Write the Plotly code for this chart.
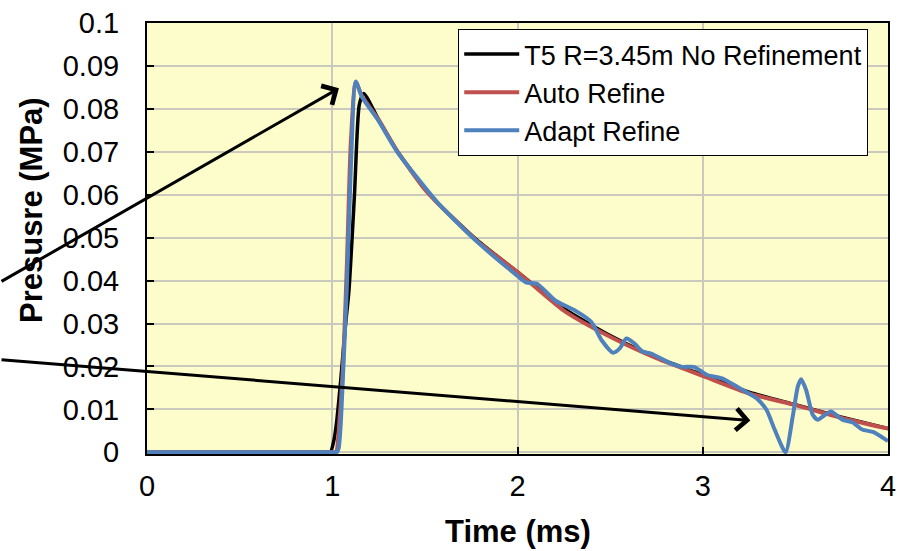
import plotly.graph_objects as go

# ---- data (time in ms, pressure in MPa) ----
t_none = [0, 0.5, 0.9, 0.97, 0.99, 1.01, 1.025, 1.046, 1.07, 1.09, 1.12, 1.146, 1.17, 1.25, 1.35, 1.5, 1.56, 1.78, 2.0, 2.25, 2.5, 2.75, 3.0, 3.25, 3.5, 3.75, 4.0]
p_none = [0, 0, 0, 0, 0, 0.003, 0.0076, 0.0169, 0.029, 0.0376, 0.060, 0.081, 0.0836, 0.0775, 0.0702, 0.0615, 0.0585, 0.0495, 0.0420, 0.0335, 0.0272, 0.0221, 0.0180, 0.0140, 0.0111, 0.0082, 0.0055]

t_auto = [0, 0.5, 0.9, 1.0, 1.02, 1.04, 1.06, 1.08, 1.10, 1.127, 1.16, 1.25, 1.35, 1.5, 1.56, 1.78, 2.0, 2.25, 2.5, 2.75, 3.0, 3.25, 3.5, 3.75, 4.0]
p_auto = [0, 0, 0, 0, 0, 0.008, 0.022, 0.045, 0.072, 0.0862, 0.0830, 0.0775, 0.0702, 0.0612, 0.0584, 0.0493, 0.0420, 0.0330, 0.0269, 0.0219, 0.0178, 0.0137, 0.0110, 0.0080, 0.0055]

t_adapt = [0, 0.5, 0.9, 1.0, 1.025, 1.035, 1.045, 1.057, 1.078, 1.10, 1.127, 1.16, 1.25, 1.351, 1.564, 1.778, 2.0, 2.045, 2.107, 2.205, 2.312, 2.40,
           2.454, 2.516, 2.552, 2.588, 2.632, 2.676, 2.721, 2.828, 2.89, 2.952, 3.024, 3.104, 3.184, 3.29, 3.344,
           3.388, 3.447, 3.486, 3.513, 3.531, 3.558, 3.593, 3.62, 3.691, 3.753, 3.807, 3.86, 3.922, 4.0]
p_adapt = [0, 0, 0, 0, 0, 0.001, 0.006, 0.0169, 0.0376, 0.066, 0.0864, 0.0828, 0.0772, 0.0700, 0.0584, 0.0492, 0.0411, 0.0396, 0.0392, 0.0353, 0.0330, 0.0303,
           0.0261, 0.0232, 0.0242, 0.0265, 0.0253, 0.0234, 0.0230, 0.0207, 0.0199, 0.0199, 0.0180, 0.0172, 0.0153, 0.0126, 0.0099,
           0.0053, 0.0, 0.0084, 0.0153, 0.0170, 0.0145, 0.0088, 0.0076, 0.0095, 0.0076, 0.0070, 0.0053, 0.0047, 0.0026]

names = ["T5 R=3.45m No Refinement", "Auto Refine", "Adapt Refine"]
colors = ["#000000", "#C0504D", "#4F81BD"]

x_ticks = [0, 1, 2, 3, 4]
y_ticks = [0, 0.01, 0.02, 0.03, 0.04, 0.05, 0.06, 0.07, 0.08, 0.09, 0.1]
y_tick_labels = ["0", "0.01", "0.02", "0.03", "0.04", "0.05", "0.06", "0.07", "0.08", "0.09", "0.1"]
x_title = "Time (ms)"
y_title = "Presusre (MPa)"

# arrow tips (data) and tails (pixel offsets from tip)
arrow_tips = [(1.036, 0.0848), (3.257, 0.0074)]
arrow_tails = [(-341, 194), (-757, -61)]

fig = go.Figure()
for tx, py, nm, col, w in [(t_none, p_none, names[0], colors[0], 3.5),
                           (t_auto, p_auto, names[1], colors[1], 4),
                           (t_adapt, p_adapt, names[2], colors[2], 4)]:
    fig.add_trace(go.Scatter(x=tx, y=py, name=nm, mode="lines", cliponaxis=False,
                             line=dict(color=col, width=w, shape="spline", smoothing=0.6)))

for (ax_, ay_), (dx, dy) in zip(arrow_tips, arrow_tails):
    fig.add_annotation(x=ax_, y=ay_, xref="x", yref="y", ax=dx, ay=dy, axref="pixel", ayref="pixel",
                       showarrow=True, arrowhead=4, arrowsize=1.4, arrowwidth=3, arrowcolor="black", text="")

font = "Liberation Sans, Arial, sans-serif"
fig.add_annotation(text="<b>%s</b>" % x_title, xref="paper", yref="paper", x=0.5007, y=-0.18,
                   xanchor="center", yanchor="middle", showarrow=False, font=dict(size=31))
fig.add_annotation(text="<b>%s</b>" % y_title, xref="paper", yref="paper", x=-0.156, y=0.567,
                   xanchor="center", yanchor="middle", textangle=-90, showarrow=False, font=dict(size=31))

fig.update_layout(
    width=903, height=551,
    margin=dict(l=147, r=7, t=19, b=97),
    paper_bgcolor="white",
    plot_bgcolor="#FDFDCB",
    font=dict(family=font, size=27, color="black"),
    showlegend=True,
    legend=dict(x=0.42, y=0.986, xanchor="left", yanchor="top",
                bgcolor="white", bordercolor="black", borderwidth=1,
                font=dict(size=27), itemwidth=55, tracegroupgap=0,
                traceorder="normal"),
    xaxis=dict(range=[0, 4], tickvals=x_ticks, ticks="inside", ticklen=7, tickwidth=2, tickcolor="black",
               showgrid=True, gridcolor="#C9C9BD", gridwidth=1.5, layer="below traces",
               showline=True, linecolor="black", linewidth=2, mirror=True, zeroline=False,
               tickfont=dict(size=29), ticklabelstandoff=5),
    yaxis=dict(range=[-0.0004, 0.1], tickvals=y_ticks, ticktext=y_tick_labels, ticks="inside", ticklen=7, tickwidth=2,
               tickcolor="black", showgrid=True, gridcolor="#C9C9BD", gridwidth=1.5, layer="below traces",
               showline=True, linecolor="black", linewidth=2, mirror=True, zeroline=False,
               tickfont=dict(size=29), ticklabelstandoff=20),
)
fig.write_html("out.html")
